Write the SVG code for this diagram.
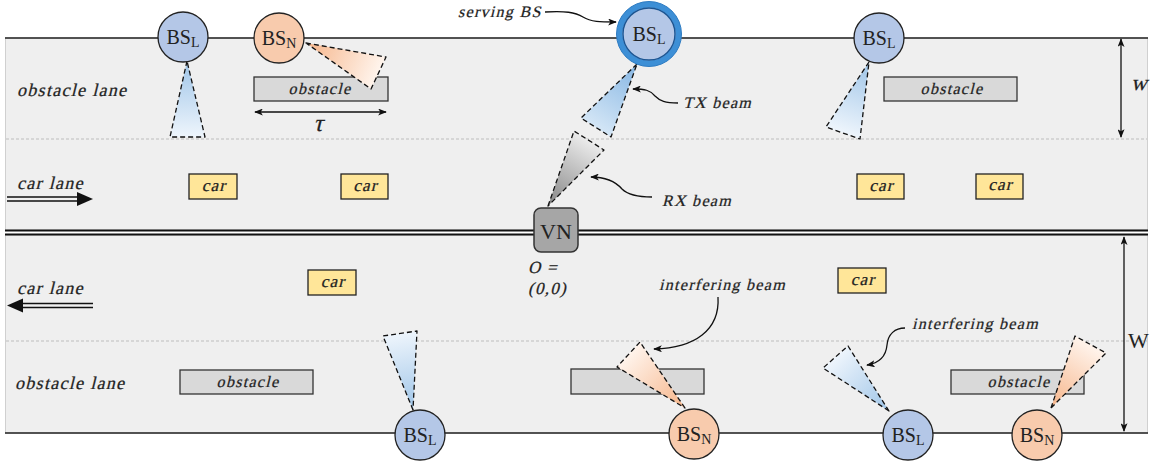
<svg xmlns="http://www.w3.org/2000/svg" width="1152" height="464" viewBox="0 0 1152 464">
<style>
.it{font-family:"Liberation Serif",serif;font-size:16px;letter-spacing:1.3px;fill:#222;stroke:#222;stroke-width:0.25}
.lane{font-size:18px;letter-spacing:1.3px}
.cl{font-size:17px}
.sym{letter-spacing:0}
.rm{font-family:"Liberation Serif",serif;fill:#222}
.road{fill:#efefef;stroke:#d0d0d0;stroke-width:1}
.edge{stroke:#222;stroke-width:1.5;fill:none}
.mid{stroke:#111;stroke-width:1.8;fill:none}
.dash{stroke:#bdbdbd;stroke-width:1;stroke-dasharray:3 2;fill:none}
.obs{fill:#d9d9d9;stroke:#333;stroke-width:1.3}
.car{fill:#ffe699;stroke:#222;stroke-width:1.3}
.bsl{fill:#b4c7e7;stroke:#222;stroke-width:1.3}
.bsn{fill:#f8cbad;stroke:#222;stroke-width:1.3}
.beam{stroke:#111;stroke-width:1.3;stroke-dasharray:5 3;stroke-linejoin:round}
.conn{stroke:#111;stroke-width:1.3;fill:none}
.dim{stroke:#111;stroke-width:1.3;fill:none;marker-start:url(#ah);marker-end:url(#ah)}
</style>
<defs>
<marker id="ah" viewBox="0 0 10 8" refX="9" refY="4" markerWidth="9" markerHeight="7" markerUnits="userSpaceOnUse" orient="auto-start-reverse">
<path d="M0,0 L10,4 L0,8 L2.5,4 z" fill="#111"/>
</marker>
<linearGradient id="gb"><stop offset="0" stop-color="#9fc5e8"/><stop offset="1" stop-color="#eef5fc"/></linearGradient>
<linearGradient id="gtx"><stop offset="0" stop-color="#86b6e3"/><stop offset="1" stop-color="#d4e6f6"/></linearGradient>
<linearGradient id="go"><stop offset="0" stop-color="#f6b58a"/><stop offset="1" stop-color="#fff4ec"/></linearGradient>
<linearGradient id="gg"><stop offset="0" stop-color="#858585"/><stop offset="1" stop-color="#ececec"/></linearGradient>
<linearGradient id="g1" href="#gb" gradientUnits="userSpaceOnUse" x1="187" y1="61" x2="187" y2="137"/>
<linearGradient id="g2" href="#go" gradientUnits="userSpaceOnUse" x1="306" y1="43" x2="378" y2="73"/>
<linearGradient id="g3" href="#gtx" gradientUnits="userSpaceOnUse" x1="637" y1="64" x2="596" y2="128"/>
<linearGradient id="g4" href="#gg" gradientUnits="userSpaceOnUse" x1="548" y1="206" x2="589" y2="140"/>
<linearGradient id="g5" href="#gb" gradientUnits="userSpaceOnUse" x1="869" y1="62" x2="843" y2="133"/>
<linearGradient id="g6" href="#gb" gradientUnits="userSpaceOnUse" x1="413" y1="410" x2="400" y2="333"/>
<linearGradient id="g7" href="#go" gradientUnits="userSpaceOnUse" x1="685" y1="408" x2="628" y2="354"/>
<linearGradient id="g8" href="#gb" gradientUnits="userSpaceOnUse" x1="889" y1="411" x2="835" y2="357"/>
<linearGradient id="g9" href="#go" gradientUnits="userSpaceOnUse" x1="1051" y1="408" x2="1090" y2="344"/>
</defs>

<g id="road">
<rect class="road" x="5.5" y="38" width="1142" height="192"/>
<rect class="road" x="5.5" y="235" width="1142" height="198"/>
<line class="edge" x1="5" y1="38" x2="1148" y2="38"/>
<line class="edge" x1="5" y1="433" x2="1148" y2="433"/>
<line class="mid" x1="5" y1="230.5" x2="1148" y2="230.5"/>
<line class="mid" x1="5" y1="234.5" x2="1148" y2="234.5"/>
<line class="dash" x1="6" y1="139" x2="1147" y2="139"/>
<line class="dash" x1="6" y1="341" x2="1147" y2="341"/>
</g>

<g id="lane-labels">
<g transform="translate(17,96) skewX(-14)"><text class="it lane">obstacle lane</text></g>
<g transform="translate(17,189) skewX(-14)"><text class="it lane">car lane</text></g>
<g transform="translate(17,294) skewX(-14)"><text class="it lane">car lane</text></g>
<g transform="translate(15,389) skewX(-14)"><text class="it lane">obstacle lane</text></g>
<path d="M7,197 H79 M7,201 H79" stroke="#111" stroke-width="1.5" fill="none"/>
<path d="M77,192 L93,199 L77,206 z" fill="#111"/>
<path d="M21,303.5 H93 M21,307.5 H93" stroke="#111" stroke-width="1.5" fill="none"/>
<path d="M23,298.5 L7,305.5 L23,312.5 z" fill="#111"/>
</g>

<g id="obstacles">
<g id="obstacle-1"><rect class="obs" x="254" y="77" width="134" height="24"/><g transform="translate(320,94) skewX(-14)"><text class="it" text-anchor="middle">obstacle</text></g></g>
<g id="obstacle-2"><rect class="obs" x="884" y="77" width="133" height="24"/><g transform="translate(952,94) skewX(-14)"><text class="it" text-anchor="middle">obstacle</text></g></g>
<g id="obstacle-3"><rect class="obs" x="180" y="370" width="133" height="24"/><g transform="translate(248,387) skewX(-14)"><text class="it" text-anchor="middle">obstacle</text></g></g>
<g id="obstacle-4"><rect class="obs" x="571" y="369" width="133" height="25"/></g>
<g id="obstacle-5"><rect class="obs" x="951" y="370" width="133" height="24"/><g transform="translate(1019,387) skewX(-14)"><text class="it" text-anchor="middle">obstacle</text></g></g>
</g>

<g id="cars">
<g id="car-1"><rect class="car" x="189" y="174" width="48" height="25"/><g transform="translate(214,191) skewX(-14)"><text class="it cl" text-anchor="middle">car</text></g></g>
<g id="car-2"><rect class="car" x="341" y="174" width="47" height="25"/><g transform="translate(365.5,191) skewX(-14)"><text class="it cl" text-anchor="middle">car</text></g></g>
<g id="car-3"><rect class="car" x="857" y="174" width="47" height="25"/><g transform="translate(881.5,191) skewX(-14)"><text class="it cl" text-anchor="middle">car</text></g></g>
<g id="car-4"><rect class="car" x="976" y="174" width="47" height="25"/><g transform="translate(1000.5,190) skewX(-14)"><text class="it cl" text-anchor="middle">car</text></g></g>
<g id="car-5"><rect class="car" x="308" y="270" width="48" height="25"/><g transform="translate(333,287) skewX(-14)"><text class="it cl" text-anchor="middle">car</text></g></g>
<g id="car-6"><rect class="car" x="838" y="268" width="48" height="25"/><g transform="translate(863,285) skewX(-14)"><text class="it cl" text-anchor="middle">car</text></g></g>
</g>

<g id="beams">
<polygon id="beam-1" class="beam" fill="url(#g1)" points="187,61 170,137 205,137"/>
<polygon id="beam-2" class="beam" fill="url(#g2)" points="306,43 386,57 371,89"/>
<polygon id="tx-beam" class="beam" fill="url(#g3)" points="637,64 581,118 611,137"/>
<polygon id="rx-beam" class="beam" fill="url(#g4)" points="548,206 574,131 604,150"/>
<polygon id="beam-5" class="beam" fill="url(#g5)" points="869,62 826,127 860,139"/>
<polygon id="beam-6" class="beam" fill="url(#g6)" points="413,410 383,336 417,331"/>
<polygon id="beam-7" class="beam" fill="url(#g7)" points="685,408 640,342 617,367"/>
<polygon id="beam-8" class="beam" fill="url(#g8)" points="889,411 823,368 848,346"/>
<polygon id="beam-9" class="beam" fill="url(#g9)" points="1051,408 1075,336 1106,353"/>
</g>

<g id="bs-l-1"><circle class="bsl" cx="183" cy="37" r="25"/><text class="rm" x="183" y="44" text-anchor="middle" font-size="20">BS<tspan font-size="14" dy="3">L</tspan></text></g>
<g id="bs-n-1"><circle class="bsn" cx="279" cy="38" r="25"/><text class="rm" x="279" y="45" text-anchor="middle" font-size="20">BS<tspan font-size="14" dy="3">N</tspan></text></g>
<g id="serving-bs">
<circle cx="649" cy="34" r="29.5" fill="#b4c7e7" stroke="#3d8fd6" stroke-width="6"/>
<circle cx="649" cy="34" r="26" fill="none" stroke="#1c5592" stroke-width="1.4"/>
<circle cx="649" cy="34" r="32.5" fill="none" stroke="#2f7cc2" stroke-width="1"/>
<text class="rm" x="649" y="41" text-anchor="middle" font-size="20">BS<tspan font-size="14" dy="3">L</tspan></text>
</g>
<g id="bs-l-2"><circle class="bsl" cx="879" cy="38" r="25"/><text class="rm" x="879" y="45" text-anchor="middle" font-size="20">BS<tspan font-size="14" dy="3">L</tspan></text></g>
<g id="bs-l-3"><circle class="bsl" cx="420" cy="435" r="25"/><text class="rm" x="420" y="442" text-anchor="middle" font-size="20">BS<tspan font-size="14" dy="3">L</tspan></text></g>
<g id="bs-n-2"><circle class="bsn" cx="694" cy="434" r="25"/><text class="rm" x="694" y="441" text-anchor="middle" font-size="20">BS<tspan font-size="14" dy="3">N</tspan></text></g>
<g id="bs-l-4"><circle class="bsl" cx="908" cy="435" r="25"/><text class="rm" x="908" y="442" text-anchor="middle" font-size="20">BS<tspan font-size="14" dy="3">L</tspan></text></g>
<g id="bs-n-3"><circle class="bsn" cx="1037" cy="435" r="25"/><text class="rm" x="1037" y="442" text-anchor="middle" font-size="20">BS<tspan font-size="14" dy="3">N</tspan></text></g>

<g id="vn">
<rect x="534" y="208" width="44" height="44" rx="7" fill="#a6a6a6" stroke="#333" stroke-width="1.5"/>
<text class="rm" x="556" y="239" text-anchor="middle" font-size="22">VN</text>
<g transform="translate(528,273) skewX(-14)"><text class="it cl">O =</text></g>
<g transform="translate(528,294) skewX(-14)"><text class="it cl">(0,0)</text></g>
</g>

<g id="labels">
<g transform="translate(458,17) skewX(-14)"><text class="it">serving BS</text></g>
<g transform="translate(683,108) skewX(-14)"><text class="it">TX beam</text></g>
<g transform="translate(662,206) skewX(-14)"><text class="it">RX beam</text></g>
<g transform="translate(659,290) skewX(-14)"><text class="it">interfering beam</text></g>
<g transform="translate(912,329) skewX(-14)"><text class="it">interfering beam</text></g>
<g transform="translate(318,131) skewX(-14)"><text class="it sym" style="font-size:24px" text-anchor="middle">τ</text></g>
<g transform="translate(1131,90) skewX(-14)"><text class="it sym" style="font-size:22px">w</text></g>
<text class="rm" x="1128" y="348" font-size="22">W</text>
</g>

<g id="connectors">
<path class="conn" marker-end="url(#ah)" d="M545,12 C565,11 575,12 583,17 C591,22 600,22 616,22"/>
<path class="conn" marker-end="url(#ah)" d="M678,103 C665,103 660,101 655,96 C650,90 645,89 633,89"/>
<path class="conn" marker-end="url(#ah)" d="M652,197 C640,197 628,195 622,189 C615,181 605,177 591,177"/>
<path class="conn" marker-end="url(#ah)" d="M718,297 C720,330 695,348 654,349"/>
<path class="conn" marker-end="url(#ah)" d="M905,328 C895,328 888,334 887,345 C886,356 880,363 867,365"/>
<line class="dim" x1="255" y1="112" x2="386" y2="112"/>
<line class="dim" x1="1121" y1="39" x2="1121" y2="137"/>
<line class="dim" x1="1124" y1="237" x2="1124" y2="431"/>
</g>
</svg>
